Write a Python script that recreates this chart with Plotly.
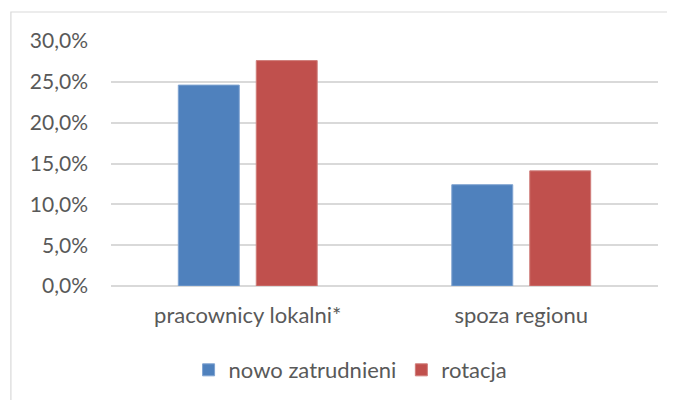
import plotly.graph_objects as go

categories = ["pracownicy lokalni*", "spoza regionu"]
nowo_zatrudnieni = [0.246, 0.124]
rotacja = [0.276, 0.141]
y_ticks = [0, 0.05, 0.10, 0.15, 0.20, 0.25, 0.30]
y_tick_labels = ["0,0%", "5,0%", "10,0%", "15,0%", "20,0%", "25,0%", "30,0%"]

FONT = "Lato"
TXT = "#595959"

fig = go.Figure()
fig.add_trace(go.Bar(name="nowo zatrudnieni", x=categories, y=nowo_zatrudnieni,
                     marker=dict(color="#4f81bd", line=dict(color="#7fa3d1", width=1))))
fig.add_trace(go.Bar(name="rotacja", x=categories, y=rotacja,
                     marker=dict(color="#c0504d", line=dict(color="#cf7d7a", width=1))))

fig.update_layout(
    width=667, height=392,
    margin=dict(l=102.6, r=17.2, t=33, b=114, autoexpand=False),
    paper_bgcolor="white", plot_bgcolor="white",
    barmode="group", bargap=0.43, bargroupgap=0.218,
    font=dict(family=FONT, size=20, color=TXT),
    showlegend=True,
    legend=dict(orientation="h", x=0.438, xanchor="center", y=-0.343, yanchor="middle",
                font=dict(family=FONT, size=22, color=TXT), itemwidth=30,
                traceorder="normal", bgcolor="rgba(0,0,0,0)"),
    xaxis=dict(showgrid=False, showline=False, zeroline=False, ticks="",
               tickfont=dict(family=FONT, size=22, color=TXT), ticklabelstandoff=14),
    yaxis=dict(range=[0, 0.30], tickvals=y_ticks, ticktext=y_tick_labels,
               showgrid=True, gridcolor="#d9d9d9", gridwidth=1.5,
               zeroline=True, zerolinecolor="#d9d9d9", zerolinewidth=1.5,
               showline=False, ticks="", ticklabelstandoff=22,
               tickfont=dict(family=FONT, size=21, color=TXT)),
    shapes=[dict(type="rect", xref="paper", yref="paper",
                 x0=-0.183, x1=1.2, y0=-1.0, y1=1.1183,
                 line=dict(color="#d9d9d9", width=1.2), layer="below")],
)

fig.write_html("out.html")
